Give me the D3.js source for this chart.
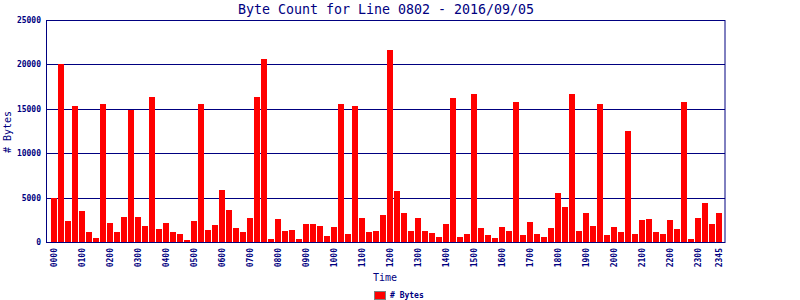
<!DOCTYPE html>
<html>
<head>
<meta charset="utf-8">
<script src="https://cdn.jsdelivr.net/npm/d3@7"></script>
<style>
  body { margin: 0; background: #fff; }
  svg { display: block; }
</style>
</head>
<body>
<svg id="chart"></svg>
<script>
// 15 minute slots for the day
const times = [
  "0000","0015","0030","0045","0100","0115","0130","0145",
  "0200","0215","0230","0245","0300","0315","0330","0345",
  "0400","0415","0430","0445","0500","0515","0530","0545",
  "0600","0615","0630","0645","0700","0715","0730","0745",
  "0800","0815","0830","0845","0900","0915","0930","0945",
  "1000","1015","1030","1045","1100","1115","1130","1145",
  "1200","1215","1230","1245","1300","1315","1330","1345",
  "1400","1415","1430","1445","1500","1515","1530","1545",
  "1600","1615","1630","1645","1700","1715","1730","1745",
  "1800","1815","1830","1845","1900","1915","1930","1945",
  "2000","2015","2030","2045","2100","2115","2130","2145",
  "2200","2215","2230","2245","2300","2315","2330","2345"
];

// byte counts per slot
const bytes = [
  5000, 20000, 2420, 15370, 3440, 1170, 470, 15590,
  2190, 1170, 2870, 14810, 2760, 1850, 16370, 1510,
  2190, 1170, 940, 260, 2420, 15590, 1370, 1950,
  5840, 3550, 1600, 1150, 2750, 16370, 20590, 340,
  2630, 1260, 1370, 340, 2060, 2060, 1830, 690,
  1720, 15590, 920, 15370, 2750, 1150, 1260, 3090,
  21590, 5720, 3210, 1260, 2750, 1260, 1030, 570,
  2060, 16260, 570, 920, 16700, 1600, 800, 460,
  1720, 1260, 15810, 800, 2290, 920, 570, 1600,
  5500, 3890, 16700, 1260, 3210, 1830, 15590, 800,
  1720, 1150, 12480, 920, 2520, 2630, 1150, 920,
  2520, 1490, 15810, 340, 2750, 4350, 2060, 3210
];

const xTicks = ["0000","0100","0200","0300","0400","0500","0600","0700",
  "0800","0900","1000","1100","1200","1300","1400","1500","1600","1700",
  "1800","1900","2000","2100","2200","2300","2345"];
const yTicks = [0, 5000, 10000, 15000, 20000, 25000];

const navy = "#000080";
const mono = "'DejaVu Sans Mono', 'Liberation Mono', monospace";

const W = 800, H = 300;
const plotL = 47, plotR = 725, plotT = 20, plotB = 242;

const svg = d3.select("#chart").attr("width", W).attr("height", H);

const x = d3.scaleBand()
  .domain(times)
  .range([plotL + 3.5, plotR - 2.5])
  .paddingInner(1 / 7)
  .paddingOuter(1 / 14);

const y = d3.scaleLinear().domain([0, 25000]).range([plotB, plotT]);

// title
svg.append("text")
  .attr("x", (plotL + plotR) / 2)
  .attr("y", 13.5)
  .attr("text-anchor", "middle")
  .attr("font-family", mono)
  .attr("font-size", "13.3px")
  .attr("fill", navy)
  .text("Byte Count for Line 0802 - 2016/09/05");

// horizontal grid lines
svg.append("g")
  .selectAll("line")
  .data(yTicks)
  .join("line")
  .attr("x1", plotL).attr("x2", plotR)
  .attr("y1", d => Math.round(y(d)) + 0.5)
  .attr("y2", d => Math.round(y(d)) + 0.5)
  .attr("stroke", navy)
  .attr("stroke-width", 1);

// bars
svg.append("g")
  .selectAll("rect")
  .data(bytes)
  .join("rect")
  .attr("x", (d, i) => Math.round(x(times[i])))
  .attr("width", Math.round(x.bandwidth()))
  .attr("y", d => Math.round(y(d)))
  .attr("height", d => plotB - Math.round(y(d)))
  .attr("fill", "#ff0000")
  .attr("shape-rendering", "crispEdges");

// frame
svg.append("rect")
  .attr("x", plotL - 0.5).attr("y", plotT + 0.5)
  .attr("width", plotR - plotL + 0.5).attr("height", plotB - plotT)
  .attr("fill", "none")
  .attr("stroke", navy)
  .attr("stroke-width", 1);

// y tick labels
svg.append("g")
  .selectAll("text")
  .data(yTicks)
  .join("text")
  .attr("x", 41)
  .attr("y", d => y(d) + 3)
  .attr("text-anchor", "end")
  .attr("font-family", mono)
  .attr("font-weight", "bold")
  .attr("font-size", "8px")
  .attr("fill", navy)
  .text(d => d);

// x tick labels, rotated
svg.append("g")
  .selectAll("text")
  .data(xTicks)
  .join("text")
  .attr("transform", d => `translate(${x(d) + x.bandwidth() / 2 + 3},248) rotate(-90)`)
  .attr("text-anchor", "end")
  .attr("font-family", mono)
  .attr("font-weight", "bold")
  .attr("font-size", "8px")
  .attr("fill", navy)
  .text(d => d);

// axis titles
svg.append("text")
  .attr("x", 385)
  .attr("y", 281)
  .attr("text-anchor", "middle")
  .attr("font-family", mono)
  .attr("font-size", "10px")
  .attr("fill", navy)
  .text("Time");

svg.append("text")
  .attr("transform", "translate(11,132) rotate(-90)")
  .attr("text-anchor", "middle")
  .attr("font-family", mono)
  .attr("font-size", "10px")
  .attr("fill", navy)
  .text("# Bytes");

// legend
svg.append("rect")
  .attr("x", 374.5).attr("y", 291.5)
  .attr("width", 11).attr("height", 8)
  .attr("fill", "#ff0000")
  .attr("stroke", "#808080");

svg.append("text")
  .attr("x", 390)
  .attr("y", 298)
  .attr("font-family", mono)
  .attr("font-weight", "bold")
  .attr("font-size", "8px")
  .attr("fill", navy)
  .text("# Bytes");
</script>
</body>
</html>
